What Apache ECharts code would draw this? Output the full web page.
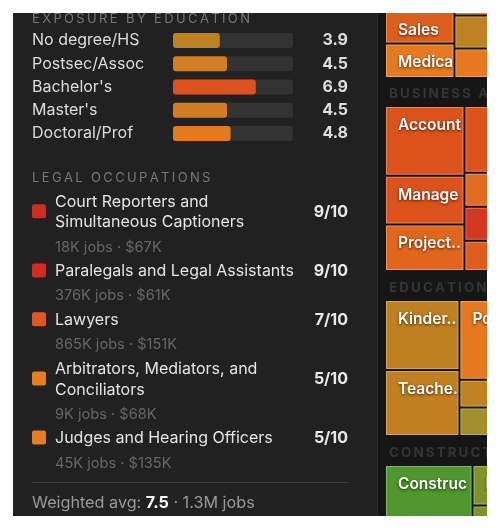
<!DOCTYPE html>
<html>
  <head>
    <meta charset="utf-8">
    <title></title>
    <style media="screen">
    html,body {margin:0;padding:0;background:#fff;overflow:hidden;}
    #chart {width:500px;height:528px;clip-path:inset(13px 13px 12px 13px);}
    </style>
    <script src="https://cdn.jsdelivr.net/npm/echarts@6/dist/echarts.min.js" charset="utf-8"></script>
    <script>
    const FONT='Inter';

    // exposure by education
    const eduNames=['No degree/HS','Postsec/Assoc',"Bachelor's","Master's",'Doctoral/Prof'];
    const eduValues=[3.9,4.5,6.9,4.5,4.8];
    const eduColors=['#bd8323','#d27c23','#dc521f','#d27c23','#e27b20'];

    // legal occupations
    const occNames=[['Court Reporters and','Simultaneous Captioners'],['Paralegals and Legal Assistants'],['Lawyers'],['Arbitrators, Mediators, and','Conciliators'],['Judges and Hearing Officers']];
    const occScores=[9,9,7,5,5];
    const occJobs=['18K','376K','865K','9K','45K'];
    const occWages=['$67K','$61K','$151K','$68K','$135K'];
    const scoreColors={9:'#d22c20',7:'#df581f',5:'#e87c20'};
    const weightedAvg='7.5';
    const totalJobs='1.3M';

    // treemap groups, values are estimated cell sizes, last one in each runs off the crop
    const topNames=['','Sales','Medica','','','',''];
    const topValues=[4899,2208,2346,4530,1950,1740,27400];
    const topColors=['#dd5f1c','#dd5f1c','#e57b20','#e0651f','#bd8323','#e6781f','#bd8323'];

    const bizNames=['Account','Manage','Project..','','','','',''];
    const bizValues=[5451,3792,3634,3300,1675,1675,1500,32600];
    const bizColors=['#dc521b','#dc521b','#e0661e','#dc521b','#e16c1f','#d4381f','#dd5c1e','#dd5c1e'];

    const eduCellNames=['Kinder..','Teache.','Postse..','','',''];
    const eduCellValues=[5106,4810,5495,1925,1960,26800];
    const eduCellColors=['#bf811f','#c27f20','#e6781f','#be8320','#a08f2a','#a08f2a'];

    const conNames=['Construc','','Electr..','','','',''];
    const conValues=[8700,4350,1600,1600,1400,1400,30000];
    const conColors=['#4f962c','#4f962c','#7f9428','#7f9428','#7f9428','#7f9428','#7f9428'];

    const groupTitles=['BUSINESS AND FINANCIAL','EDUCATION','CONSTRUCTION'];

    function spaced(str){
      return str.split('').join('\u2009');
    }

    function treemap(names, values, colors, box){
      return {
        type: 'treemap',
        left: box.left,
        top: box.top,
        width: box.width,
        height: box.height,
        sort: false,
        roam: false,
        nodeClick: false,
        silent: true,
        animation: false,
        breadcrumb: {show: false},
        label: {
          show: true,
          position: 'insideTopLeft',
          padding: [9,0,0,11],
          color: '#fff',
          fontFamily: FONT,
          fontWeight: 600,
          fontSize: 15.5,
          overflow: 'none',
          textShadowColor: 'rgba(0,0,0,0.7)',
          textShadowBlur: 3,
          textShadowOffsetY: 1
        },
        levels: [
          {itemStyle: {gapWidth: 2, borderWidth: 0, borderColor: '#161616'}},
          {itemStyle: {borderWidth: 1}}
        ],
        data: names.map((name,i)=>({
          name: name,
          value: values[i],
          itemStyle: {color: colors[i], borderColor: echarts.color.lift(colors[i], 0.3)}
        }))
      };
    }

    window.onload=function (){
      let charts=echarts.init(document.getElementById('chart'));
      let graphic=[];

      function text(x, y, str, style){
        graphic.push({type: 'text', x: x, y: y, z: 5, silent: true, style: Object.assign({
          text: str, fontFamily: FONT, fontSize: 16, fill: '#ddd', verticalAlign: 'middle'
        }, style)});
      }

      graphic.push({type: 'rect', z: -2, silent: true, shape: {x: 378, y: 0, width: 122, height: 528}, style: {fill: '#161616'}});
      graphic.push({type: 'rect', z: -2, silent: true, shape: {x: 377, y: 0, width: 1, height: 528}, style: {fill: '#2b2b2b'}});

      text(32, 19, spaced('EXPOSURE BY EDUCATION'), {fontSize: 13, fill: '#777'});
      text(32, 178, spaced('LEGAL OCCUPATIONS'), {fontSize: 13, fill: '#777'});

      let y=202;
      occNames.forEach((lines,i)=>{
        let mid=y+(lines.length-1)*10.25;
        graphic.push({type: 'rect', z: 5, silent: true, shape: {x: 32, y: mid-8, width: 14, height: 14, r: 2}, style: {fill: scoreColors[occScores[i]]}});
        lines.forEach(line=>{
          text(55, y, line, {fill: '#e4e4e4'});
          y+=20.5;
        });
        y-=20.5;
        text(348, mid, occScores[i]+'/10', {align: 'right', fontWeight: 'bold', fill: '#e8e8e8'});
        y+=24.7;
        text(55, y, occJobs[i]+' jobs \u00b7 '+occWages[i], {fontSize: 14.6, fill: '#666'});
        y+=24.2;
      });

      graphic.push({type: 'rect', z: 5, silent: true, shape: {x: 32, y: 482, width: 316, height: 1}, style: {fill: '#3c3c3c'}});
      graphic.push({type: 'text', x: 32, y: 503, z: 5, silent: true, style: {
        text: '{a|Weighted avg: }{b|'+weightedAvg+'}{a| \u00b7 '+totalJobs+' jobs}',
        verticalAlign: 'middle',
        rich: {
          a: {fontFamily: FONT, fontSize: 16.2, fill: '#999', color: '#999'},
          b: {fontFamily: FONT, fontSize: 16.2, fontWeight: 'bold', fill: '#fff', color: '#fff'}
        }
      }});

      text(389, 94, spaced(groupTitles[0]), {fontSize: 13.4, fontWeight: 'bold', fill: '#343434'});
      text(389, 288, spaced(groupTitles[1]), {fontSize: 13.4, fontWeight: 'bold', fill: '#343434'});
      text(389, 453, spaced(groupTitles[2]), {fontSize: 13.4, fontWeight: 'bold', fill: '#343434'});

      let option={
        backgroundColor: '#212121',
        animation: false,
        graphic: graphic,
        grid: {left: 173, top: 29, width: 120, height: 116},
        xAxis: {type: 'value', min: 0, max: 10, show: false},
        yAxis: [
          {
            type: 'category',
            inverse: true,
            data: eduNames,
            axisLine: {show: false},
            axisTick: {show: false},
            axisLabel: {align: 'left', margin: 141, padding: [4,0,0,0], fontFamily: FONT, fontSize: 16, color: '#ddd'}
          },
          {
            type: 'category',
            inverse: true,
            position: 'right',
            data: eduValues.map(v=>v.toFixed(1)),
            axisLine: {show: false},
            axisTick: {show: false},
            axisLabel: {align: 'right', margin: 55, padding: [4,0,0,0], fontFamily: FONT, fontSize: 16, fontWeight: 'bold', color: '#ddd'}
          }
        ],
        series: [
          {
            type: 'bar',
            barWidth: 15,
            silent: true,
            showBackground: true,
            backgroundStyle: {color: '#333', borderRadius: 3},
            data: eduValues.map((v,i)=>({value: v, itemStyle: {color: eduColors[i], borderRadius: 3}}))
          },
          treemap(topNames, topValues, topColors, {left: 386, top: -60, width: 329, height: 137}),
          treemap(bizNames, bizValues, bizColors, {left: 386, top: 107, width: 329, height: 163}),
          treemap(eduCellNames, eduCellValues, eduCellColors, {left: 386, top: 301, width: 344, height: 134}),
          treemap(conNames, conValues, conColors, {left: 386, top: 466, width: 327, height: 150})
        ]
      };

      charts.setOption(option);
    };
    </script>
  </head>
  <body>
    <div id="chart"></div>
  </body>
</html>
